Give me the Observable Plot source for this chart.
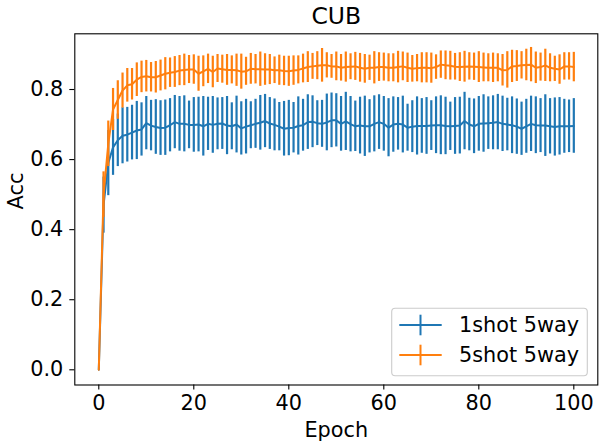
<!DOCTYPE html>
<html>
<head>
<meta charset="utf-8">
<script src="https://cdn.jsdelivr.net/npm/d3@7"></script>
<script src="https://cdn.jsdelivr.net/npm/@observablehq/plot@0.6"></script>
<style>
  html, body { margin: 0; padding: 0; background: white; }
</style>
</head>
<body>
<script>
const seriesNames = ["1shot 5way", "5shot 5way"];
const seriesColors = ["#1f77b4", "#ff7f0e"];
const xTicks = [0, 20, 40, 60, 80, 100];
const yTicks = [0, 0.2, 0.4, 0.6, 0.8];

const blueMean = [
0.000, 0.470, 0.590, 0.635, 0.655, 0.668, 0.671, 0.677, 0.683, 0.686,
0.704, 0.697, 0.693, 0.690, 0.691, 0.698, 0.707, 0.702, 0.702, 0.699,
0.699, 0.700, 0.695, 0.702, 0.699, 0.702, 0.703, 0.697, 0.695, 0.700,
0.689, 0.694, 0.698, 0.702, 0.705, 0.710, 0.703, 0.699, 0.694, 0.688,
0.690, 0.691, 0.696, 0.698, 0.707, 0.708, 0.704, 0.702, 0.706, 0.712,
0.712, 0.702, 0.709, 0.701, 0.695, 0.697, 0.695, 0.695, 0.702, 0.707,
0.702, 0.691, 0.700, 0.702, 0.700, 0.691, 0.694, 0.696, 0.696, 0.696,
0.697, 0.698, 0.698, 0.696, 0.695, 0.696, 0.697, 0.710, 0.700, 0.695,
0.702, 0.703, 0.704, 0.705, 0.707, 0.702, 0.700, 0.698, 0.694, 0.688,
0.695, 0.702, 0.698, 0.697, 0.697, 0.695, 0.693, 0.695, 0.695, 0.695,
0.696];

const blueErr = [
0.000, 0.080, 0.093, 0.080, 0.075, 0.080, 0.078, 0.078, 0.083, 0.076,
0.076, 0.072, 0.078, 0.078, 0.079, 0.076, 0.076, 0.078, 0.080, 0.068,
0.078, 0.078, 0.085, 0.076, 0.081, 0.074, 0.074, 0.083, 0.067, 0.081,
0.076, 0.078, 0.067, 0.070, 0.078, 0.076, 0.074, 0.074, 0.069, 0.078,
0.079, 0.072, 0.083, 0.074, 0.078, 0.074, 0.064, 0.067, 0.081, 0.078,
0.076, 0.078, 0.083, 0.079, 0.072, 0.081, 0.086, 0.076, 0.080, 0.078,
0.078, 0.083, 0.079, 0.075, 0.081, 0.067, 0.074, 0.083, 0.078, 0.081,
0.071, 0.081, 0.084, 0.082, 0.069, 0.081, 0.081, 0.082, 0.075, 0.078,
0.078, 0.082, 0.075, 0.077, 0.079, 0.079, 0.075, 0.081, 0.079, 0.076,
0.077, 0.079, 0.081, 0.077, 0.088, 0.079, 0.083, 0.082, 0.077, 0.075,
0.078];

const orangeMean = [
0.000, 0.500, 0.645, 0.743, 0.770, 0.797, 0.812, 0.815, 0.828, 0.836,
0.838, 0.835, 0.835, 0.840, 0.845, 0.848, 0.850, 0.854, 0.856, 0.857,
0.857, 0.845, 0.852, 0.859, 0.850, 0.860, 0.858, 0.856, 0.856, 0.855,
0.851, 0.852, 0.859, 0.858, 0.858, 0.857, 0.857, 0.855, 0.855, 0.853,
0.852, 0.854, 0.856, 0.860, 0.864, 0.866, 0.868, 0.869, 0.869, 0.866,
0.866, 0.862, 0.864, 0.865, 0.866, 0.862, 0.859, 0.862, 0.862, 0.864,
0.864, 0.862, 0.862, 0.864, 0.866, 0.862, 0.859, 0.861, 0.862, 0.862,
0.861, 0.864, 0.871, 0.869, 0.868, 0.865, 0.864, 0.865, 0.866, 0.865,
0.864, 0.863, 0.862, 0.862, 0.862, 0.855, 0.856, 0.866, 0.867, 0.869,
0.870, 0.871, 0.862, 0.864, 0.869, 0.862, 0.859, 0.857, 0.866, 0.866,
0.864];

const orangeErr = [
0.000, 0.065, 0.065, 0.060, 0.055, 0.050, 0.048, 0.045, 0.048, 0.045,
0.045, 0.042, 0.045, 0.044, 0.046, 0.042, 0.044, 0.043, 0.045, 0.040,
0.042, 0.050, 0.044, 0.042, 0.045, 0.040, 0.040, 0.044, 0.040, 0.046,
0.050, 0.040, 0.044, 0.042, 0.049, 0.045, 0.043, 0.038, 0.043, 0.042,
0.043, 0.042, 0.040, 0.041, 0.044, 0.037, 0.040, 0.048, 0.036, 0.034,
0.041, 0.038, 0.043, 0.037, 0.040, 0.041, 0.041, 0.036, 0.046, 0.041,
0.040, 0.040, 0.040, 0.045, 0.041, 0.042, 0.038, 0.039, 0.043, 0.043,
0.043, 0.035, 0.039, 0.041, 0.041, 0.038, 0.041, 0.044, 0.039, 0.039,
0.044, 0.041, 0.040, 0.042, 0.040, 0.045, 0.052, 0.046, 0.044, 0.039,
0.045, 0.049, 0.045, 0.040, 0.046, 0.040, 0.036, 0.042, 0.039, 0.039,
0.042];

const toRows = (means, errs) => means.map((m, i) => ({epoch: i, mean: m, lo: m - errs[i], hi: m + errs[i]}));
const blue = toRows(blueMean, blueErr);
const orange = toRows(orangeMean, orangeErr);

const W = 608, H = 444;
const mL = 74.3, mR = 10.7, mT = 33.3, mB = 59.5;
const FS = 20.8;

const svg = Plot.plot({
  width: W,
  height: H,
  marginLeft: mL,
  marginRight: mR,
  marginTop: mT,
  marginBottom: mB,
  style: {fontFamily: "DejaVu Sans", fontSize: FS + "px", color: "black", background: "white", overflow: "visible"},
  x: {domain: [-5.05, 105.05]},
  y: {domain: [-0.0434, 0.959]},
  marks: [
    Plot.ruleX(blue, {x: "epoch", y1: "lo", y2: "hi", stroke: seriesColors[0], strokeWidth: 2.2}),
    Plot.line(blue, {x: "epoch", y: "mean", stroke: seriesColors[0], strokeWidth: 2}),
    Plot.ruleX(orange, {x: "epoch", y1: "lo", y2: "hi", stroke: seriesColors[1], strokeWidth: 2.2}),
    Plot.line(orange, {x: "epoch", y: "mean", stroke: seriesColors[1], strokeWidth: 2}),
    Plot.frame({stroke: "black", strokeWidth: 1.1}),
    Plot.axisX({ticks: xTicks, tickSize: 5, tickPadding: 5.5, label: null, fontSize: FS, strokeWidth: 1.1}),
    Plot.axisY({ticks: yTicks, tickFormat: d3.format(".1f"), tickSize: 5, tickPadding: 6.5, label: null, fontSize: FS, strokeWidth: 1.1}),
    Plot.text(["CUB"], {frameAnchor: "top", lineAnchor: "top", dy: -26, fontSize: 23.5, fill: "black"}),
    Plot.text(["Epoch"], {frameAnchor: "bottom", lineAnchor: "top", dy: 37.2, fontSize: FS, fill: "black"}),
    Plot.text(["Acc"], {frameAnchor: "left", lineAnchor: "top", rotate: -90, dx: -67, fontSize: FS, fill: "black"})
  ]
});
document.body.appendChild(svg);

// legend
const sel = d3.select(svg);
const lg = sel.append("g").attr("font-family", "DejaVu Sans").attr("font-size", FS).attr("text-anchor", "start");
lg.append("rect")
  .attr("x", 391.7).attr("y", 308.3).attr("width", 195.6).attr("height", 67.4)
  .attr("rx", 3.5).attr("ry", 3.5)
  .attr("fill", "white").attr("fill-opacity", 0.8)
  .attr("stroke", "#cccccc").attr("stroke-width", 1.1);
seriesNames.forEach((name, i) => {
  const cy = 325 + i * 30;
  const g = lg.append("g");
  g.append("line").attr("x1", 399.3).attr("x2", 441.7).attr("y1", cy).attr("y2", cy)
    .attr("stroke", seriesColors[i]).attr("stroke-width", 2);
  g.append("line").attr("x1", 420.5).attr("x2", 420.5).attr("y1", cy - 10.3).attr("y2", cy + 10.3)
    .attr("stroke", seriesColors[i]).attr("stroke-width", 2);
  g.append("text").attr("x", 459).attr("y", cy).attr("dy", "0.36em").attr("fill", "black")
    .style("text-anchor", "start").text(name);
});
</script>
</body>
</html>
